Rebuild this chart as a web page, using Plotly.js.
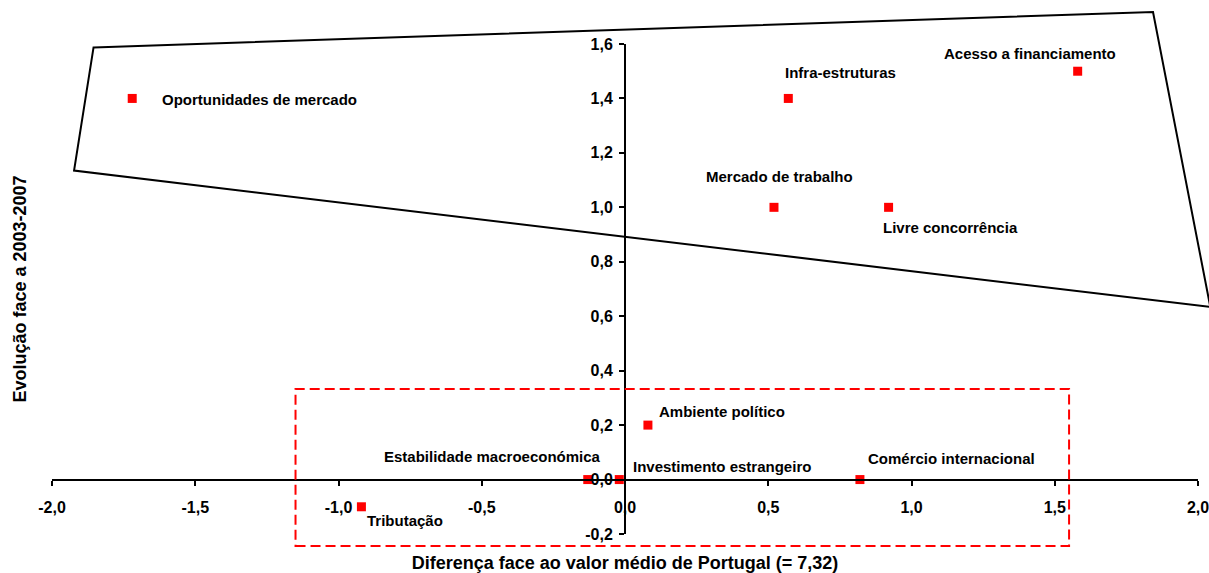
<!DOCTYPE html>
<html><head><meta charset="utf-8">
<script src="https://cdn.plot.ly/plotly-3.0.1.min.js"></script>
<style>html,body{margin:0;padding:0;background:#fff}</style>
</head><body><div id="chart" style="width:1209px;height:573px"></div>
<script>
// ---- data ----
const factors = ["Oportunidades de mercado","Infra-estruturas","Acesso a financiamento","Mercado de trabalho","Livre concorrência","Ambiente político","Estabilidade macroeconómica","Investimento estrangeiro","Comércio internacional","Tributação"];
const diffFromMean = [-1.72, 0.57, 1.58, 0.52, 0.92, 0.08, -0.13, -0.02, 0.82, -0.92];
const change2003to2007 = [1.4, 1.4, 1.5, 1.0, 1.0, 0.2, 0.0, 0.0, 0.0, -0.1];
const xTickVals = [-2, -1.5, -1, -0.5, 0, 0.5, 1, 1.5, 2];
const xTickText = ["-2,0","-1,5","-1,0","-0,5","0,0","0,5","1,0","1,5","2,0"];
const yTickVals = [-0.2, 0, 0.2, 0.4, 0.6, 0.8, 1.0, 1.2, 1.4, 1.6];
const yTickText = ["-0,2","0,0","0,2","0,4","0,6","0,8","1,0","1,2","1,4","1,6"];
// highlighted groups (data units)
const strongGroupX = [-1.855, 1.843, 2.043, -1.923];
const strongGroupY = [1.5875, 1.7176, 0.634, 1.135];
const weakGroupX = [-1.15, 1.55];
const weakGroupY = [-0.244, 0.333];

// ---- presentation ----
const X_RANGE = [-2, 2], Y_RANGE = [-0.2, 1.6];
const px = v => (v - X_RANGE[0]) / (X_RANGE[1] - X_RANGE[0]);
const py = v => (v - Y_RANGE[0]) / (Y_RANGE[1] - Y_RANGE[0]);
const FONT = 'Liberation Sans, Arial, sans-serif';

// label placement: anchor side and pixel offsets from each point
const labelPlacement = [
  {a:'left',  dx:27.7, dy:-1},
  {a:'left',  dx:-5.3, dy:25.6},
  {a:'right', dx:40,   dy:17.7},
  {a:'center',dx:5.6,  dy:31},
  {a:'left',  dx:-7.3, dy:-20},
  {a:'left',  dx:8.6,  dy:14},
  {a:'right', dx:15.7, dy:23},
  {a:'left',  dx:11.4, dy:13},
  {a:'left',  dx:6.4,  dy:21},
  {a:'left',  dx:3.3,  dy:-13.6}
];

const annotations = factors.map((f, i) => ({
  x: diffFromMean[i], y: change2003to2007[i], xref:'x', yref:'y',
  text: f, showarrow:false, xanchor: labelPlacement[i].a, yanchor:'middle',
  xshift: labelPlacement[i].dx, yshift: labelPlacement[i].dy,
  font:{family:FONT, size:15, color:'#000', weight:'bold'}
}));

let polyPath = strongGroupX.map((x, i) => (i === 0 ? 'M' : 'L') + px(x) + ',' + py(strongGroupY[i])).join(' ') + ' Z';

const shapes = [
  {type:'path', xref:'paper', yref:'paper', path: polyPath,
   line:{color:'#000', width:2}, fillcolor:'rgba(0,0,0,0)', layer:'above'},
  {type:'rect', xref:'paper', yref:'paper',
   x0:px(weakGroupX[0]), x1:px(weakGroupX[1]), y0:py(weakGroupY[0]), y1:py(weakGroupY[1]),
   line:{color:'#ff0000', width:2, dash:'10px,5px'}, fillcolor:'rgba(0,0,0,0)', layer:'above'}
];

const trace = {
  type:'scatter', mode:'markers', x: diffFromMean, y: change2003to2007,
  text: factors, cliponaxis:false,
  marker:{symbol:'square', size:9, color:'#ff0000', line:{width:0}},
  hoverinfo:'text'
};

const axisFont = {family:FONT, size:16, color:'#000', weight:'bold'};
const layout = {
  width:1209, height:573,
  margin:{l:52, r:11, t:44, b:39, pad:0},
  paper_bgcolor:'#fff', plot_bgcolor:'rgba(0,0,0,0)',
  showlegend:false,
  xaxis:{range:X_RANGE, anchor:'free', position: py(0), tickmode:'array',
    tickvals:xTickVals, ticktext:xTickText, showgrid:false, zeroline:false,
    showline:true, linecolor:'#000', linewidth:2, ticks:'outside', ticklen:5,
    tickwidth:2, tickcolor:'#000', tickfont:axisFont, automargin:false,
    ticklabelstandoff:8, ticklabeloverflow:'allow',
    title:{text:'Diferença face ao valor médio de Portugal (= 7,32)', standoff:42,
      font:{family:FONT, size:18, color:'#000', weight:'bold'}}},
  yaxis:{range:Y_RANGE, anchor:'free', position: px(0), tickmode:'array',
    tickvals:yTickVals, ticktext:yTickText, showgrid:false, zeroline:false,
    showline:true, linecolor:'#000', linewidth:2, ticks:'outside', ticklen:5,
    tickwidth:2, tickcolor:'#000', tickfont:axisFont, automargin:false,
    ticklabelstandoff:3, ticklabeloverflow:'allow',
    title:{text:'Evolução face a 2003-2007', standoff:553,
      font:{family:FONT, size:18, color:'#000', weight:'bold'}}},
  shapes: shapes,
  annotations: annotations
};

Plotly.newPlot('chart', [trace], layout, {staticPlot:true, displayModeBar:false});
</script></body></html>
